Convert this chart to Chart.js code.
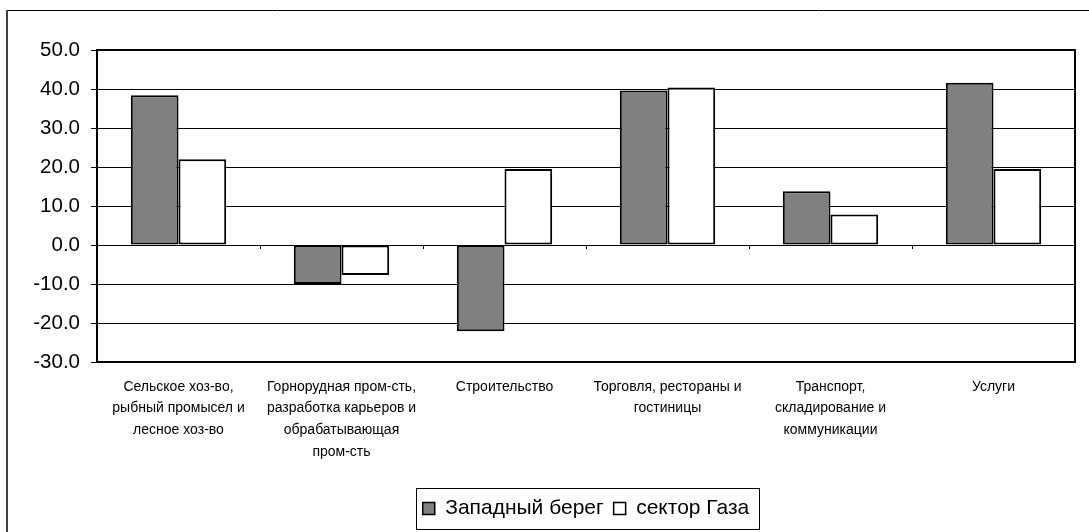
<!DOCTYPE html>
<html>
<head>
<meta charset="utf-8">
<script src="https://cdn.jsdelivr.net/npm/chart.js@4.4.1/dist/chart.umd.min.js"></script>
<style>
  html, body { margin: 0; padding: 0; background: #fff; }
  #wrap { position: relative; width: 1089px; height: 532px; }
</style>
</head>
<body>
<div id="wrap"><canvas id="c" width="1089" height="532"></canvas></div>
<script>
const categories = [
  ["Сельское хоз-во,", "рыбный промысел и", "лесное хоз-во"],
  ["Горнорудная пром-сть,", "разработка карьеров и", "обрабатывающая", "пром-сть"],
  ["Строительство"],
  ["Торговля, рестораны и", "гостиницы"],
  ["Транспорт,", "складирование и", "коммуникации"],
  ["Услуги"]
];
const seriesNames = ["Западный берег", "сектор Газа"];
const westBank = [38.4, -10.0, -22.1, 39.6, 13.8, 41.6];
const gaza = [22.0, -7.7, 19.5, 40.4, 7.8, 19.5];
const yMin = -30, yMax = 50, yStep = 10;

const FONT = "'Liberation Sans', Arial, sans-serif";

const framePlugin = {
  id: 'frame',
  afterDraw(chart) {
    const ctx = chart.ctx;
    const a = chart.chartArea;
    ctx.save();
    // outer chart frame (top + left visible)
    ctx.strokeStyle = '#000';
    ctx.lineWidth = 1;
    ctx.beginPath();
    ctx.moveTo(7, 10.5); ctx.lineTo(1089, 10.5);
    ctx.stroke();
    ctx.strokeStyle = '#404040';
    ctx.lineWidth = 2;
    ctx.beginPath();
    ctx.moveTo(7, 10); ctx.lineTo(7, 532);
    ctx.stroke();
    // category tick marks on zero line
    const xs = chart.scales.x, ys = chart.scales.y;
    const y0 = ys.getPixelForValue(0);
    ctx.strokeStyle = '#000';
    ctx.lineWidth = 1;
    for (let i = 0; i < categories.length - 1; i++) {
      const bx = Math.round((xs.getPixelForValue(i) + xs.getPixelForValue(i + 1)) / 2) + 0.5;
      ctx.beginPath();
      ctx.moveTo(bx, y0); ctx.lineTo(bx, y0 + 4);
      ctx.stroke();
    }
    // plot area border
    ctx.strokeStyle = '#000';
    ctx.lineWidth = 2;
    ctx.strokeRect(a.left, a.top, a.right - a.left, a.bottom - a.top);
    // legend border
    const lg = chart.legend;
    if (lg && lg.legendHitBoxes && lg.legendHitBoxes.length) {
      const hb = lg.legendHitBoxes;
      const l = hb[0].left - 7;
      const last = hb[hb.length - 1];
      const r = last.left + last.width + 9;
      ctx.lineWidth = 1;
      ctx.strokeStyle = '#000';
      ctx.strokeRect(Math.round(l) + 0.5, Math.round(lg.top) + 0.5, Math.round(r - l), Math.round(lg.bottom - lg.top));
    }
    ctx.restore();
  }
};

new Chart(document.getElementById('c'), {
  type: 'bar',
  data: {
    labels: categories,
    datasets: [
      {
        label: seriesNames[0],
        data: westBank,
        backgroundColor: '#808080',
        borderColor: '#000',
        borderWidth: 2,
        borderSkipped: false,
        categoryPercentage: 0.585,
        barPercentage: 1.0
      },
      {
        label: seriesNames[1],
        data: gaza,
        backgroundColor: '#ffffff',
        borderColor: '#000',
        borderWidth: 2,
        borderSkipped: false,
        categoryPercentage: 0.585,
        barPercentage: 1.0
      }
    ]
  },
  options: {
    responsive: false,
    animation: false,
    devicePixelRatio: 1,
    layout: { padding: { left: 0, right: 14, top: 50, bottom: 3 } },
    plugins: {
      tooltip: { enabled: false },
      legend: {
        position: 'bottom',
        fullSize: false,
        labels: {
          color: '#000',
          font: { family: FONT, size: 21 },
          boxWidth: 12,
          boxHeight: 12,
          padding: 10,
          generateLabels(chart) {
            return chart.data.datasets.map((d, i) => ({
              text: d.label,
              fillStyle: d.backgroundColor,
              strokeStyle: '#000',
              lineWidth: 1.5,
              datasetIndex: i,
              fontColor: '#000'
            }));
          }
        }
      }
    },
    scales: {
      x: {
        grid: { display: false, drawTicks: false },
        border: { display: false },
        ticks: {
          color: '#000',
          font: { family: FONT, size: 14, lineHeight: 1.55 },
          padding: 14,
          maxRotation: 0,
          autoSkip: false
        },
        afterFit(s) { s.height = 126; }
      },
      y: {
        min: yMin,
        max: yMax,
        grid: {
          color: '#000',
          lineWidth: 1,
          drawTicks: true,
          tickLength: 6
        },
        border: { display: false },
        ticks: {
          stepSize: yStep,
          color: '#000',
          font: { family: FONT, size: 20.5 },
          padding: 11,
          callback: v => Number(v).toFixed(1)
        },
        afterFit(s) { s.width = 97; }
      }
    }
  },
  plugins: [framePlugin]
});
</script>
</body>
</html>
